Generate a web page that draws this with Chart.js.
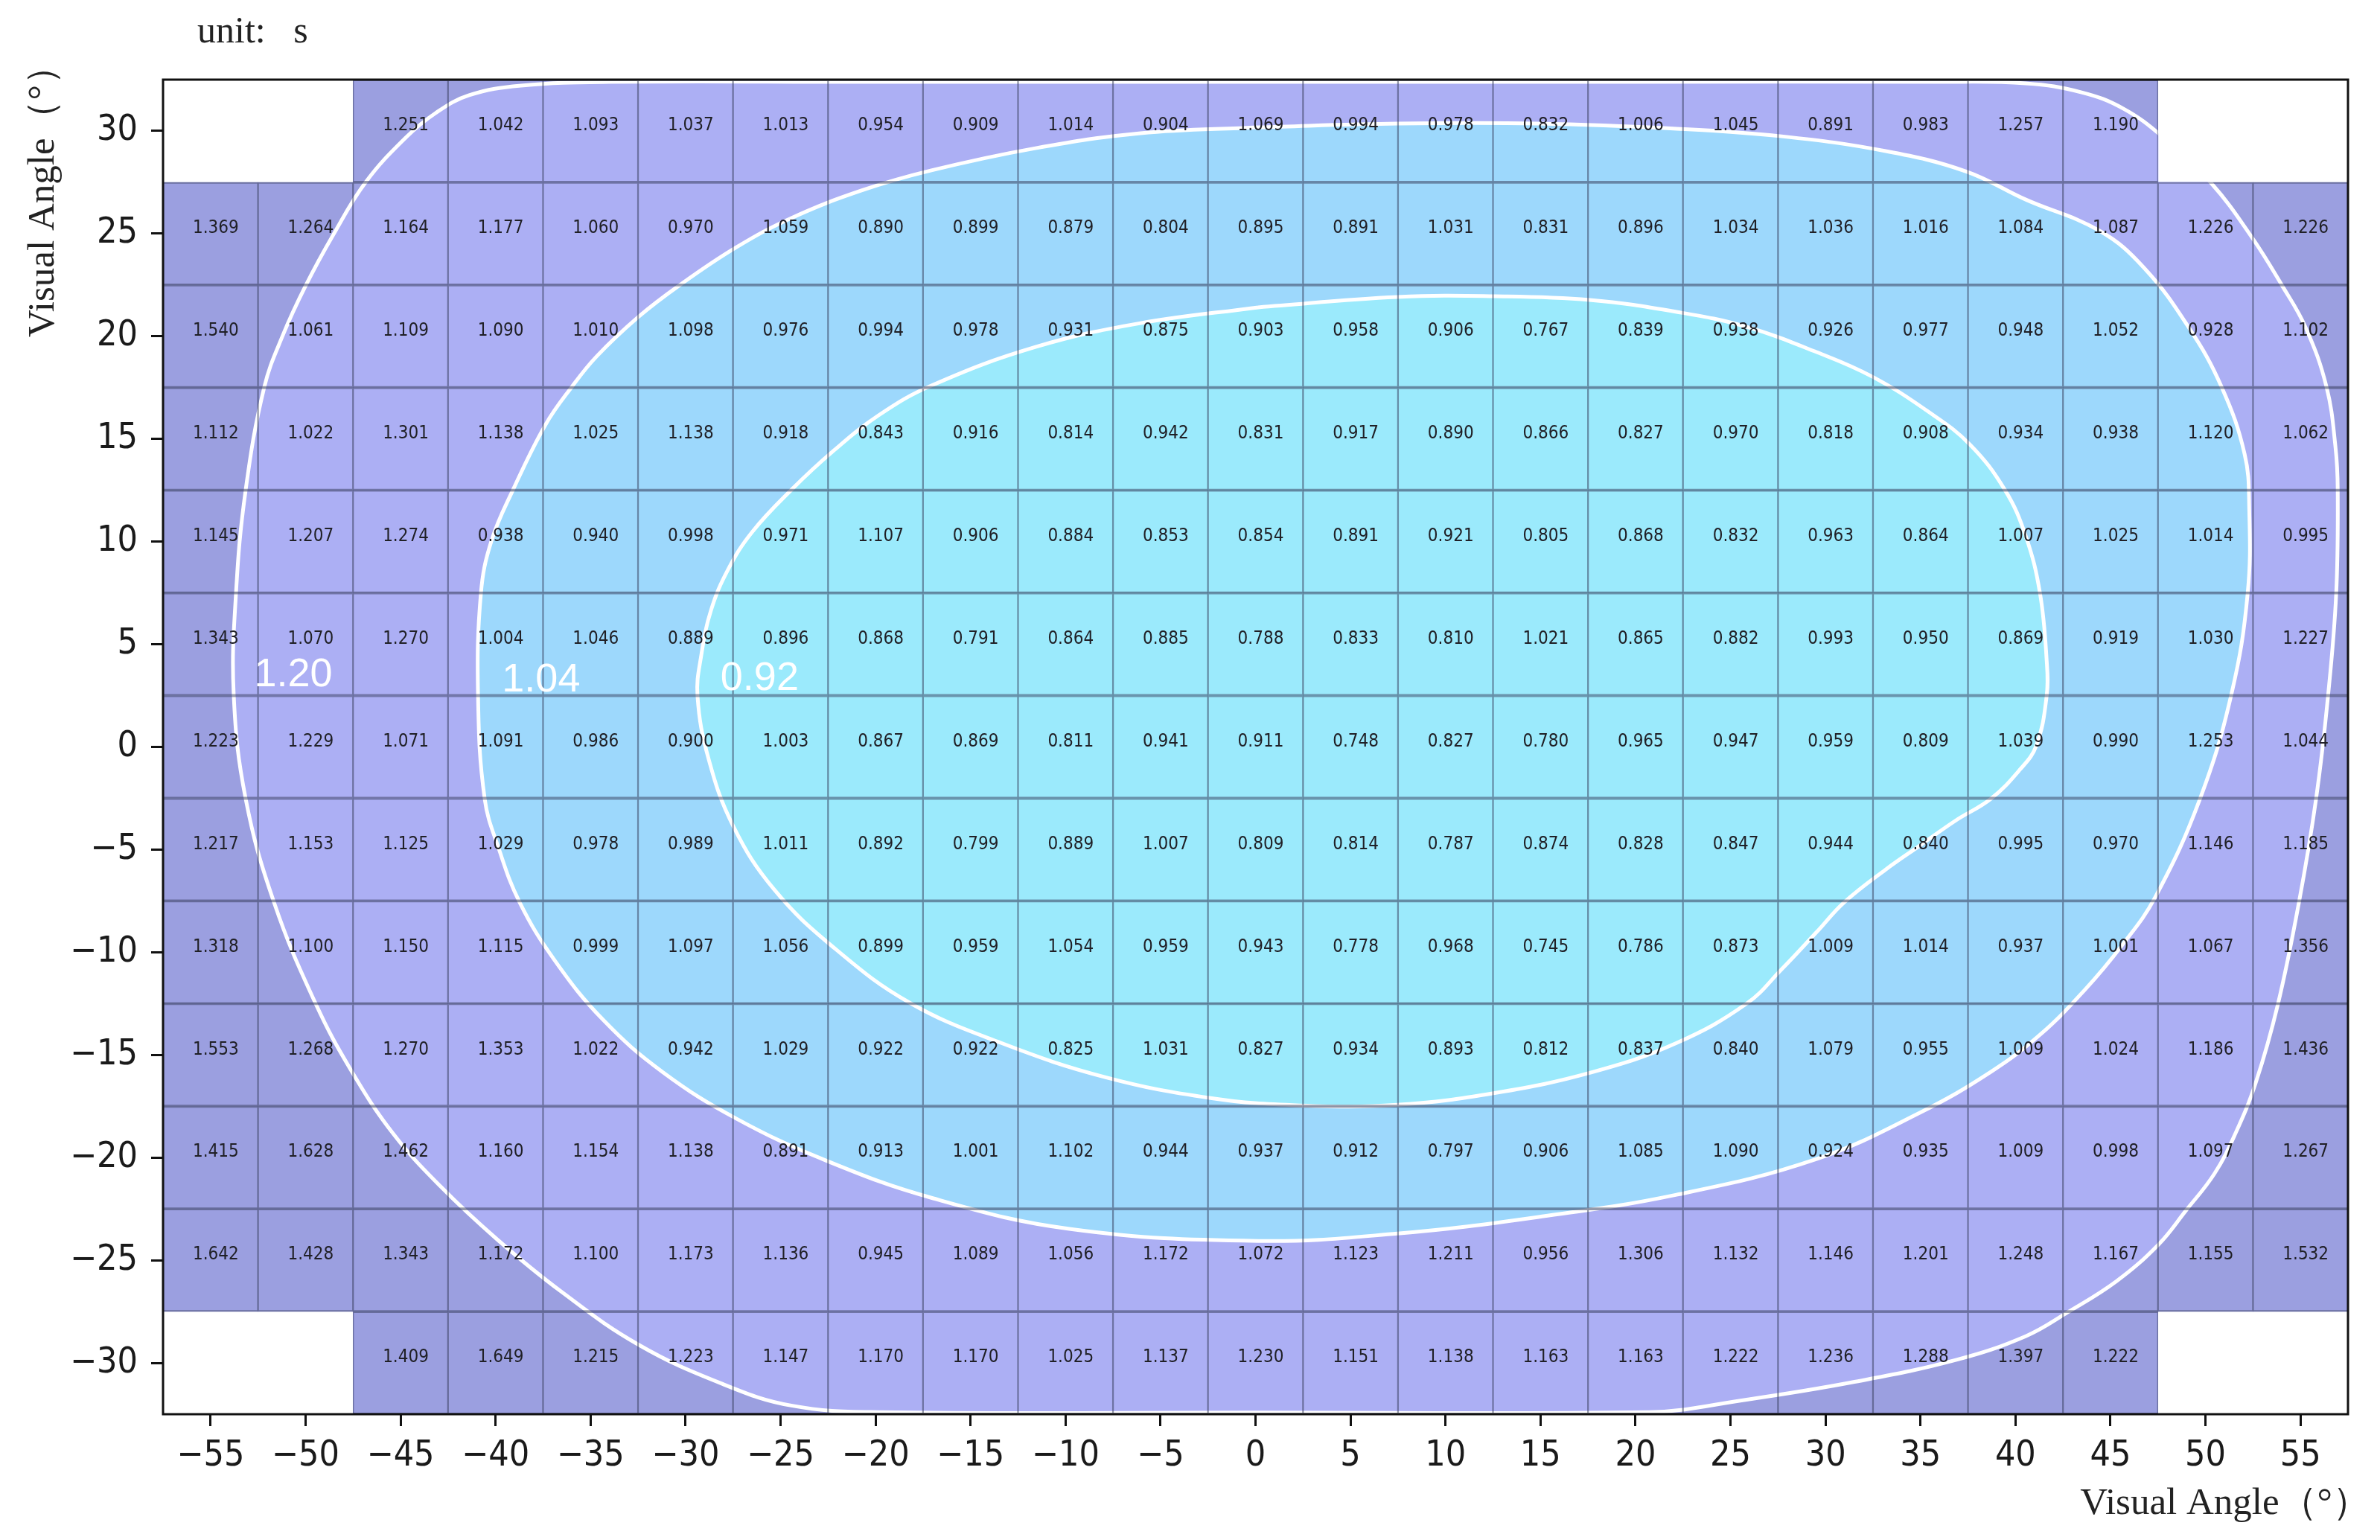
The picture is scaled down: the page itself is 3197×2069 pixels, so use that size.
<!DOCTYPE html>
<html>
<head>
<meta charset="utf-8">
<script src="https://cdn.jsdelivr.net/npm/chart.js@4.4.1/dist/chart.umd.min.js"></script>
<style>
    html, body { margin: 0; padding: 0; background: #ffffff; }
    #contenedor { width: 3197px; height: 2069px; position: relative; }
</style>
</head>
<body>
<div id="contenedor"><canvas id="graficaTiempos"></canvas></div>
<script>
// Se definen las posiciones de las celdas (ángulo visual en grados)
const columnasX = [-55, -50, -45, -40, -35, -30, -25, -20, -15, -10, -5, 0, 5, 10, 15, 20, 25, 30, 35, 40, 45, 50, 55];
const filasY = [30, 25, 20, 15, 10, 5, 0, -5, -10, -15, -20, -25, -30];
const ticksX = [-55, -50, -45, -40, -35, -30, -25, -20, -15, -10, -5, 0, 5, 10, 15, 20, 25, 30, 35, 40, 45, 50, 55];
const ticksY = [30, 25, 20, 15, 10, 5, 0, -5, -10, -15, -20, -25, -30];

// Se guardan los tiempos de cada fila (s); null = celda sin dato
const fila30 = [null, null, 1.251, 1.042, 1.093, 1.037, 1.013, 0.954, 0.909, 1.014, 0.904, 1.069, 0.994, 0.978, 0.832, 1.006, 1.045, 0.891, 0.983, 1.257, 1.190, null, null];
const fila25 = [1.369, 1.264, 1.164, 1.177, 1.060, 0.970, 1.059, 0.890, 0.899, 0.879, 0.804, 0.895, 0.891, 1.031, 0.831, 0.896, 1.034, 1.036, 1.016, 1.084, 1.087, 1.226, 1.226];
const fila20 = [1.540, 1.061, 1.109, 1.090, 1.010, 1.098, 0.976, 0.994, 0.978, 0.931, 0.875, 0.903, 0.958, 0.906, 0.767, 0.839, 0.938, 0.926, 0.977, 0.948, 1.052, 0.928, 1.102];
const fila15 = [1.112, 1.022, 1.301, 1.138, 1.025, 1.138, 0.918, 0.843, 0.916, 0.814, 0.942, 0.831, 0.917, 0.890, 0.866, 0.827, 0.970, 0.818, 0.908, 0.934, 0.938, 1.120, 1.062];
const fila10 = [1.145, 1.207, 1.274, 0.938, 0.940, 0.998, 0.971, 1.107, 0.906, 0.884, 0.853, 0.854, 0.891, 0.921, 0.805, 0.868, 0.832, 0.963, 0.864, 1.007, 1.025, 1.014, 0.995];
const fila5 = [1.343, 1.070, 1.270, 1.004, 1.046, 0.889, 0.896, 0.868, 0.791, 0.864, 0.885, 0.788, 0.833, 0.810, 1.021, 0.865, 0.882, 0.993, 0.950, 0.869, 0.919, 1.030, 1.227];
const fila0 = [1.223, 1.229, 1.071, 1.091, 0.986, 0.900, 1.003, 0.867, 0.869, 0.811, 0.941, 0.911, 0.748, 0.827, 0.780, 0.965, 0.947, 0.959, 0.809, 1.039, 0.990, 1.253, 1.044];
const filaM5 = [1.217, 1.153, 1.125, 1.029, 0.978, 0.989, 1.011, 0.892, 0.799, 0.889, 1.007, 0.809, 0.814, 0.787, 0.874, 0.828, 0.847, 0.944, 0.840, 0.995, 0.970, 1.146, 1.185];
const filaM10 = [1.318, 1.100, 1.150, 1.115, 0.999, 1.097, 1.056, 0.899, 0.959, 1.054, 0.959, 0.943, 0.778, 0.968, 0.745, 0.786, 0.873, 1.009, 1.014, 0.937, 1.001, 1.067, 1.356];
const filaM15 = [1.553, 1.268, 1.270, 1.353, 1.022, 0.942, 1.029, 0.922, 0.922, 0.825, 1.031, 0.827, 0.934, 0.893, 0.812, 0.837, 0.840, 1.079, 0.955, 1.009, 1.024, 1.186, 1.436];
const filaM20 = [1.415, 1.628, 1.462, 1.160, 1.154, 1.138, 0.891, 0.913, 1.001, 1.102, 0.944, 0.937, 0.912, 0.797, 0.906, 1.085, 1.090, 0.924, 0.935, 1.009, 0.998, 1.097, 1.267];
const filaM25 = [1.642, 1.428, 1.343, 1.172, 1.100, 1.173, 1.136, 0.945, 1.089, 1.056, 1.172, 1.072, 1.123, 1.211, 0.956, 1.306, 1.132, 1.146, 1.201, 1.248, 1.167, 1.155, 1.532];
const filaM30 = [null, null, 1.409, 1.649, 1.215, 1.223, 1.147, 1.170, 1.170, 1.025, 1.137, 1.230, 1.151, 1.138, 1.163, 1.163, 1.222, 1.236, 1.288, 1.397, 1.222, null, null];
const filas = [fila30, fila25, fila20, fila15, fila10, fila5, fila0, filaM5, filaM10, filaM15, filaM20, filaM25, filaM30];

// Se leen las curvas de nivel del gráfico original [x, y]
const niveles = ['1.20', '1.04', '0.92'];
const contorno120 = [[0, 32.39], [-21.0, 32.39], [-33.95, 32.39], [-38.65, 32.21], [-41.39, 31.74], [-43.16, 30.87], [-44.73, 29.67], [-46.84, 27.5], [-48.53, 24.96], [-49.98, 22.49], [-51.19, 20.06], [-52.17, 17.53], [-53.15, 12.52], [-53.66, 7.48], [-53.78, 2.55], [-53.15, -2.53], [-51.66, -7.57], [-49.47, -12.5], [-47.55, -15.83], [-45.35, -18.88], [-42.88, -21.42], [-39.91, -23.99], [-36.54, -26.53], [-32.5, -29.1], [-28.07, -31.02], [-24.43, -32.08], [-19.84, -32.4], [0, -32.42], [20.71, -32.4], [25.85, -31.79], [31.37, -30.95], [36.86, -29.86], [40.54, -28.7], [42.74, -27.54], [45.32, -26.02], [47.52, -24.24], [48.97, -22.58], [50.46, -20.8], [51.55, -18.88], [52.65, -16.34], [53.82, -12.5], [54.92, -7.57], [55.82, -2.53], [56.45, 2.48], [56.88, 7.48], [56.96, 12.52], [56.84, 14.62], [56.37, 17.53], [55.27, 20.43], [54.02, 22.49], [52.45, 24.81], [50.3, 27.46], [47.75, 29.71], [45.67, 31.09], [43.48, 31.88], [40.54, 32.32], [35.8, 32.39], [20.13, 32.39], [0, 32.39]];
const contorno104 = [[0.14, 30.18], [-6.05, 29.89], [-11.58, 29.16], [-17.06, 28.08], [-20.74, 27.1], [-24.43, 25.76], [-27.37, 24.31], [-30.31, 22.49], [-32.5, 20.93], [-34.69, 19.01], [-35.99, 17.53], [-37.36, 15.71], [-39.08, 12.52], [-40.22, 10.02], [-40.77, 7.48], [-40.92, 2.48], [-40.57, -2.53], [-39.83, -4.95], [-38.73, -7.57], [-36.89, -10.39], [-34.34, -13.29], [-31.21, -15.83], [-27.29, -18.12], [-22.59, -20.15], [-17.06, -21.96], [-9.73, -23.48], [0.14, -24.06], [7.47, -23.7], [14.84, -22.9], [22.16, -21.81], [29.53, -20.07], [35.02, -17.79], [38.7, -15.83], [41.29, -14.02], [43.64, -11.84], [45.6, -9.67], [47.36, -7.31], [49.71, -2.53], [51.36, 2.55], [52.22, 7.48], [52.3, 11.72], [52.06, 14.26], [50.85, 17.53], [49.12, 20.43], [46.77, 23.33], [44.42, 25.14], [40.54, 26.66], [37.37, 28.04], [33.17, 29.02], [27.69, 29.74], [22.16, 30.11], [14.84, 30.36], [7.47, 30.36], [0.14, 30.18]];
const contorno092 = [[0.14, 21.41], [-6.05, 20.64], [-11.58, 19.48], [-17.06, 17.6], [-19.84, 16.15], [-22.19, 14.44], [-24.43, 12.52], [-26.5, 10.46], [-27.76, 8.64], [-28.66, 6.65], [-29.17, 4.47], [-29.37, 2.48], [-28.78, -0.6], [-27.48, -3.87], [-25.33, -6.95], [-22.19, -9.78], [-18.2, -12.46], [-13.38, -14.42], [-7.89, -16.09], [-2.37, -17.1], [2.34, -17.46], [7.47, -17.43], [12.64, -16.85], [17.77, -15.83], [22.16, -14.42], [25.85, -12.5], [27.69, -10.83], [29.53, -9.02], [30.98, -7.57], [33.17, -5.97], [35.02, -4.77], [36.86, -3.58], [38.7, -2.53], [40.19, -1.15], [41.09, 0.05], [41.64, 2.48], [41.64, 4.22], [41.29, 7.48], [40.54, 10.27], [39.44, 12.52], [37.6, 14.73], [35.41, 16.33], [32.47, 18.03], [29.53, 19.23], [25.85, 20.46], [22.16, 21.19], [17.58, 21.77], [12.64, 21.95], [7.47, 21.91], [0.14, 21.41]];
const posEtiquetas = [[-50.64, 3.5], [-37.6, 3.24], [-26.1, 3.3]];

// Se calcula medio paso de la malla para el tamaño de celda
const medioPaso = (columnasX[1] - columnasX[0]) / 2;

// Se arma la lista de celdas con dato como barras flotantes
const datosCeldas = [];
filas.forEach((fila, r) => fila.forEach((valor, c) => {
    if (valor === null) return;
    datosCeldas.push({ x: columnasX[c], y: [filasY[r] - medioPaso, filasY[r] + medioPaso], v: valor });
}));

const aPuntos = lista => lista.map(([x, y]) => ({ x, y }));
const formatoTick = v => (v < 0 ? '\u2212' + Math.abs(v) : String(v));

const fuenteTicks = '"DejaVu Sans Condensed", "DejaVu Sans", sans-serif';
const fuenteSerif = '"Liberation Serif", "Times New Roman", serif';

// Plugin: recorte a las celdas con dato, valores, etiquetas y marco
const pluginCeldas = {
    id: 'celdas',
    beforeDatasetsDraw(chart) {
        const { ctx, scales: { x, y } } = chart;
        ctx.save();
        ctx.beginPath();
        datosCeldas.forEach(d => {
            const x0 = x.getPixelForValue(d.x - medioPaso);
            const x1 = x.getPixelForValue(d.x + medioPaso);
            const y0 = y.getPixelForValue(d.y[1]);
            const y1 = y.getPixelForValue(d.y[0]);
            ctx.rect(x0 - 0.5, y0 - 0.5, x1 - x0 + 1, y1 - y0 + 1);
        });
        ctx.clip();
    },
    afterDatasetsDraw(chart) {
        const { ctx, chartArea, scales: { x, y } } = chart;
        ctx.restore();
        ctx.save();

        // Se escriben los valores de cada celda
        ctx.font = '24px ' + fuenteTicks;
        ctx.fillStyle = '#202026';
        ctx.textAlign = 'center';
        ctx.textBaseline = 'middle';
        datosCeldas.forEach(d => {
            const px = x.getPixelForValue(d.x);
            const py = y.getPixelForValue((d.y[0] + d.y[1]) / 2);
            ctx.fillText(d.v.toFixed(3), px + 7, py - 7);
        });

        // Se escriben las etiquetas de las curvas de nivel
        ctx.font = '54px "Liberation Sans", Arial, sans-serif';
        ctx.fillStyle = '#ffffff';
        niveles.forEach((txt, i) => {
            ctx.fillText(txt, x.getPixelForValue(posEtiquetas[i][0]), y.getPixelForValue(posEtiquetas[i][1]));
        });

        // Se dibuja el marco del área del gráfico
        ctx.strokeStyle = '#111111';
        ctx.lineWidth = 3;
        ctx.strokeRect(chartArea.left, chartArea.top, chartArea.right - chartArea.left, chartArea.bottom - chartArea.top);
        ctx.restore();
    },
    afterDraw(chart) {
        const { ctx } = chart;
        ctx.save();
        ctx.fillStyle = '#222222';
        ctx.font = '50px ' + fuenteSerif;
        ctx.textAlign = 'left';
        ctx.textBaseline = 'alphabetic';
        ctx.fillText('unit:   s', 265, 57);

        ctx.font = '51px ' + fuenteSerif;
        ctx.textAlign = 'right';
        ctx.fillText('Visual Angle\uFF08\u00B0\uFF09', 3184, 2034);

        ctx.translate(72, 258);
        ctx.rotate(-Math.PI / 2);
        ctx.textAlign = 'center';
        ctx.fillText('Visual Angle\uFF08\u00B0\uFF09', 0, 0);
        ctx.restore();
    }
};

// Se configura cada curva de nivel como línea cerrada con relleno
function curvaNivel(etiqueta, puntos, relleno, orden) {
    return {
        type: 'line',
        label: etiqueta,
        data: aPuntos(puntos),
        borderColor: '#ffffff',
        borderWidth: 5,
        backgroundColor: relleno,
        fill: 'shape',
        tension: 0.4,
        pointRadius: 0,
        order: orden
    };
}

const ctx = document.getElementById('graficaTiempos').getContext('2d');
new Chart(ctx, {
    type: 'bar',
    data: {
        datasets: [
            {
                type: 'bar',
                label: 'fondo',
                data: datosCeldas,
                backgroundColor: '#9b9fe0',
                borderWidth: 0,
                grouped: false,
                barPercentage: 1,
                categoryPercentage: 1,
                order: 6
            },
            curvaNivel(niveles[0], contorno120, '#acaff4', 5),
            curvaNivel(niveles[1], contorno104, '#9dd8fc', 4),
            curvaNivel(niveles[2], contorno092, '#9beafc', 3),
            {
                type: 'bar',
                label: 'bordes',
                data: datosCeldas,
                backgroundColor: 'rgba(0,0,0,0)',
                borderColor: 'rgba(55,62,92,0.5)',
                borderWidth: { top: 1.6, bottom: 1.6, left: 0.8, right: 0.8 },
                borderSkipped: false,
                grouped: false,
                barPercentage: 1,
                categoryPercentage: 1,
                order: 1
            }
        ]
    },
    options: {
        responsive: true,
        maintainAspectRatio: false,
        animation: false,
        devicePixelRatio: 1,
        layout: { padding: { left: 0, top: 107, right: 43, bottom: 0 } },
        plugins: {
            legend: { display: false },
            tooltip: { enabled: false }
        },
        scales: {
            x: {
                type: 'linear',
                min: -57.5,
                max: 57.5,
                offset: false,
                afterBuildTicks: eje => { eje.ticks = ticksX.map(v => ({ value: v })); },
                afterFit: eje => { eje.height = 169; },
                ticks: {
                    callback: formatoTick,
                    autoSkip: false,
                    maxRotation: 0,
                    padding: 12,
                    color: '#1a1a1a',
                    font: { family: fuenteTicks, size: 48 }
                },
                grid: { offset: false, drawOnChartArea: false, drawTicks: true, tickLength: 16, tickWidth: 3, tickColor: '#111111' },
                border: { display: false }
            },
            y: {
                type: 'linear',
                min: -32.5,
                max: 32.5,
                afterBuildTicks: eje => { eje.ticks = ticksY.map(v => ({ value: v })); },
                afterFit: eje => { eje.width = 219; },
                ticks: {
                    callback: formatoTick,
                    autoSkip: false,
                    padding: 18,
                    color: '#1a1a1a',
                    font: { family: fuenteTicks, size: 48 }
                },
                grid: { drawOnChartArea: false, drawTicks: true, tickLength: 16, tickWidth: 3, tickColor: '#111111' },
                border: { display: false }
            }
        }
    },
    plugins: [pluginCeldas]
});
</script>
</body>
</html>
